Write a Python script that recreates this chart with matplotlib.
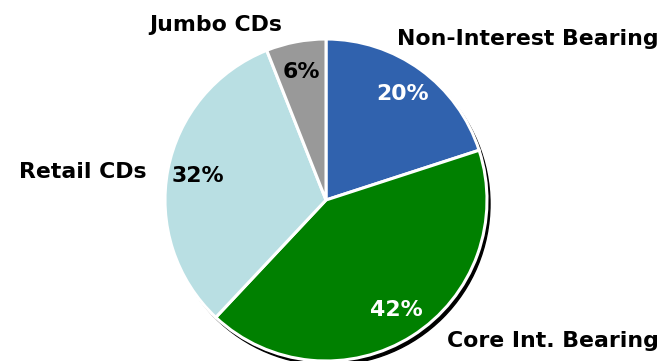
import matplotlib
matplotlib.use("Agg")
import matplotlib.pyplot as plt
from matplotlib.patches import Circle

# deposit mix
labels = ["Non-Interest Bearing", "Core Int. Bearing", "Retail CDs", "Jumbo CDs"]
shares = [20, 42, 32, 6]
colors = ["#3062ae", "#008000", "#b9dfe3", "#999999"]
pct_colors = ["white", "white", "black", "black"]
# where the category names sit (pixels, origin bottom-left)
label_pos = [(528, 322), (553, 20), (83, 189), (216, 336)]

plt.rcParams["font.family"] = ["DejaVu Sans"]
plt.rcParams["font.weight"] = "bold"

fig = plt.figure(figsize=(6.62, 3.61), dpi=100)
ax = fig.add_axes([0, 0, 1, 1])
ax.set_xlim(0, 662)
ax.set_ylim(0, 361)
ax.set_aspect("equal")
ax.axis("off")

cx, cy, r = 326, 161, 161

# drop shadow behind the pie
ax.add_patch(Circle((cx + 3, cy - 4), r, color="black", zorder=0))

wedges, texts, autotexts = ax.pie(
    shares, colors=colors, startangle=90, counterclock=False,
    center=(cx, cy), radius=r, autopct="%d%%", pctdistance=0.81,
    wedgeprops=dict(edgecolor="white", linewidth=2.2),
    textprops=dict(fontsize=15.8, fontweight="bold"),
    frame=True,
)
ax.set_xlim(0, 662)
ax.set_ylim(0, 361)
ax.axis("off")

for t, c in zip(autotexts, pct_colors):
    t.set_color(c)

for name, (x, y) in zip(labels, label_pos):
    ax.text(x, y, name, ha="center", va="center", fontsize=15.8,
            fontweight="bold", color="black")

fig.savefig("out.png", dpi=100)
